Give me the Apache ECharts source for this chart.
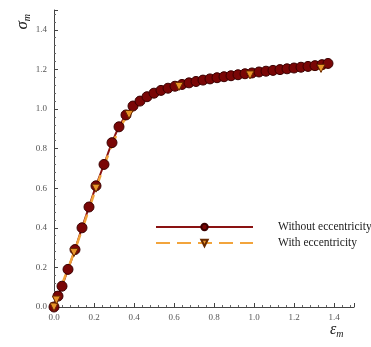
<!DOCTYPE html>
<html lang="en">
  <head>
    <meta charset="UTF-8" />
    <title>sigma_m vs epsilon_m</title>
    <script src="https://cdn.jsdelivr.net/npm/echarts@6/dist/echarts.min.js"></script>
    <style>
      body { margin: 0; background: #fff; }
      #main { width: 371px; height: 347px; }
    </style>
  </head>
  <body>
    <div id="main"></div>
    <script type="text/javascript">
      var chart = echarts.init(document.getElementById("main"))

      // without eccentricity (circle markers)
      const plainX = [0, 0.02, 0.04, 0.07, 0.105, 0.14, 0.175, 0.21, 0.25, 0.29,
        0.325, 0.36, 0.395, 0.43, 0.465, 0.5, 0.535, 0.57, 0.605, 0.64,
        0.675, 0.71, 0.745, 0.78, 0.815, 0.85, 0.885, 0.92, 0.955, 0.99,
        1.025, 1.06, 1.095, 1.13, 1.165, 1.2, 1.235, 1.27, 1.305, 1.34, 1.37]
      const plainY = [0, 0.055, 0.105, 0.19, 0.29, 0.4, 0.505, 0.612, 0.72, 0.83,
        0.91, 0.97, 1.015, 1.04, 1.062, 1.08, 1.094, 1.105, 1.115, 1.124,
        1.132, 1.139, 1.146, 1.152, 1.158, 1.163, 1.168, 1.173, 1.178, 1.182,
        1.187, 1.191, 1.195, 1.199, 1.203, 1.207, 1.211, 1.215, 1.219, 1.224, 1.23]

      // with eccentricity (triangle markers on some points only)
      const eccX = [0, 0.012, 0.05, 0.1, 0.15, 0.21, 0.26, 0.3, 0.34, 0.375,
        0.43, 0.5, 0.56, 0.625, 0.7, 0.8, 0.9, 0.98, 1.1, 1.2, 1.335, 1.37]
      const eccY = [0, 0.035, 0.14, 0.275, 0.42, 0.6, 0.74, 0.84, 0.925, 0.972,
        1.028, 1.068, 1.094, 1.114, 1.13, 1.148, 1.162, 1.172, 1.185, 1.194, 1.205, 1.208]
      const eccMarked = [0, 1, 3, 5, 9, 13, 17, 20]

      const names = ["Without eccentricity", "With eccentricity"]
      const ticks = { min: 0, max: 1.5, interval: 0.2 }

      const serif = "Liberation Serif"
      const red = "#8a1212"
      const orange = "#f2a43c"

      const plainData = plainX.map((x, i) => [x, plainY[i]])
      const eccData = eccX.map((x, i) =>
        eccMarked.includes(i) ? [x, eccY[i]] : { value: [x, eccY[i]], symbol: "none" }
      )

      function axis(margin) {
        return {
          type: "value",
          min: ticks.min,
          max: ticks.max,
          interval: ticks.interval,
          axisLine: { lineStyle: { color: "#444", width: 1 } },
          axisTick: { inside: true, length: 4, lineStyle: { color: "#444" } },
          minorTick: { show: true, splitNumber: 5, length: 2, lineStyle: { color: "#666" } },
          splitLine: { show: false },
          axisLabel: {
            fontFamily: serif,
            fontSize: 9,
            color: "#555",
            margin: margin,
            formatter: v => v.toFixed(1),
            showMaxLabel: false,
          },
        }
      }

      chart.setOption({
        animation: false,
        grid: { left: 54, right: 17, top: 10, bottom: 40 },
        xAxis: axis(6),
        yAxis: axis(7),
        legend: {
          orient: "vertical",
          left: 155,
          top: 221,
          padding: 0,
          itemWidth: 97,
          itemHeight: 8,
          itemGap: 4,
          textStyle: { fontFamily: serif, fontSize: 11.5, color: "#222", padding: [0, 0, 0, 20] },
          data: names,
        },
        graphic: [
          {
            type: "text",
            left: 14,
            top: 14,
            rotation: Math.PI / 2,
            style: {
              text: "{a|σ}{b|m}",
              rich: {
                a: { fontFamily: serif, fontSize: 17, fontStyle: "italic", fill: "#222" },
                b: { fontFamily: serif, fontSize: 10, fontStyle: "italic", fill: "#222", padding: [9, 0, 0, 0] },
              },
            },
          },
          {
            type: "text",
            left: 330,
            top: 322,
            style: {
              text: "{a|ε}{b|m}",
              rich: {
                a: { fontFamily: serif, fontSize: 16, fontStyle: "italic", fill: "#222" },
                b: { fontFamily: serif, fontSize: 10, fontStyle: "italic", fill: "#222", padding: [8, 0, 0, 0] },
              },
            },
          },
        ],
        series: [
          {
            name: names[0],
            type: "line",
            smooth: 0.3,
            data: plainData,
            symbol: "circle",
            symbolSize: 10,
            lineStyle: { color: red, width: 2 },
            itemStyle: { color: "#7a0606", borderColor: "#3a0000", borderWidth: 1 },
          },
          {
            name: names[1],
            type: "line",
            smooth: 0.3,
            data: eccData,
            symbol: "triangle",
            symbolRotate: 180,
            symbolSize: 8,
            lineStyle: { color: orange, width: 2.5, type: [14, 7] },
            itemStyle: { color: "#e8952a", borderColor: "#6a2a00", borderWidth: 1 },
          },
        ],
      })
    </script>
  </body>
</html>
